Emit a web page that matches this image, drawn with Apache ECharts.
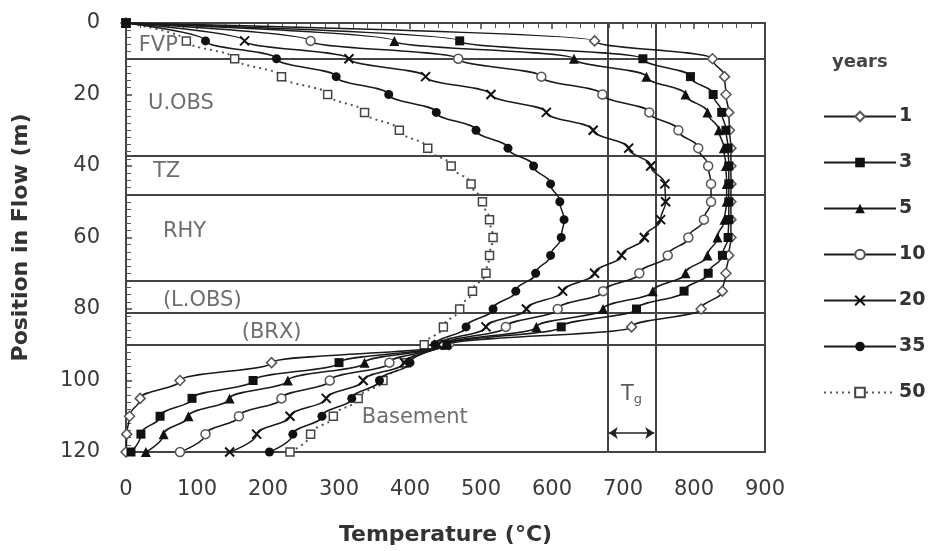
<!DOCTYPE html>
<html>
<head>
<meta charset="utf-8">
<script src="https://cdn.jsdelivr.net/npm/echarts@6/dist/echarts.min.js"></script>
<style>
html,body{margin:0;padding:0;background:#fff;}
#chart{width:933px;height:551px;}
</style>
</head>
<body>
<div id="chart"></div>
<script>
// Depth below the flow top (m) at which each profile is sampled
const depths = [0,5,10,15,20,25,30,35,40,45,50,55,60,65,70,75,80,85,90,95,100,105,110,115,120];

// Temperature (°C) profiles, one per elapsed time
const temp1  = [0,660,826,843,845,849,850,852,852,852,852,852,852,849,845,840,810,712,455,205,76,20,5,1,0];
const temp3  = [0,470,728,795,827,839,845,848,849,849,849,849,848,840,820,786,719,613,452,300,179,93,48,21,7];
const temp5  = [0,378,631,733,788,819,835,842,845,846,846,843,833,819,788,742,672,578,450,336,228,146,88,53,28];
const temp10 = [0,260,468,585,671,737,778,806,820,824,824,814,792,763,723,672,608,535,446,371,287,219,159,112,76];
const temp20 = [0,167,314,422,514,592,658,708,739,759,760,753,730,698,660,615,564,507,440,392,334,282,231,184,146];
const temp35 = [0,112,212,296,370,437,493,538,574,598,611,617,613,598,577,549,517,479,435,400,357,318,276,235,202];
const temp50 = [0,85,153,219,284,336,385,425,458,486,502,512,517,512,507,488,470,447,420,395,362,327,292,260,231];

const yearNames = ['1','3','5','10','20','35','50'];
const profiles = [temp1,temp3,temp5,temp10,temp20,temp35,temp50];

// Layer boundaries (m) and the glass-transition temperature band (°C)
const layerBounds = [10,37,48,72,81,90];
const tgBand = [678,746];

// Layer names, top to bottom
const zoneNames = ['FVP','U.OBS','TZ','RHY','(L.OBS)','(BRX)','Basement'];

const FONT = 'DejaVu Sans';

const markerStyles = [
  {symbol:'diamond', size:10, color:'#fff', border:'#555', bw:1.5, z:9},
  {symbol:'rect', size:9, color:'#111', border:'#111', bw:0, z:15},
  {symbol:'triangle', size:10, color:'#111', border:'#111', bw:0, z:10},
  {symbol:'circle', size:9, color:'#fff', border:'#555', bw:1.5, z:8},
  {symbol:'path://M0,0L10,10M10,0L0,10', size:9, color:'#111', border:'#111', bw:2, z:11},
  {symbol:'circle', size:9, color:'#111', border:'#111', bw:0, z:12},
  {symbol:'rect', size:8, color:'#fff', border:'#444', bw:1.5, z:6}
];

const profileSeries = profiles.map((temps, i) => {
  const m = markerStyles[i];
  return {
    name: yearNames[i],
    type: 'line',
    data: temps.map((t, k) => [t, depths[k]]),
    smooth: 0.45,
    smoothMonotone: 'y',
    symbol: m.symbol,
    symbolSize: m.size,
    showSymbol: true,
    lineStyle: {color: i === 6 ? '#555' : '#1a1a1a', width: i === 6 ? 2 : 1.5, type: i === 6 ? [2,4] : 'solid'},
    itemStyle: {color: m.color, borderColor: m.border, borderWidth: m.bw},
    z: m.z,
    silent: true
  };
});

// Positions of the layer captions (temperature, depth) in axis units
const zoneAnchors = [[18,6.4],[31,22.5],[38,41.6],[52,58.4],[52,77.6],[163,86.5],[332,110.5]];

const lineStyleRule = {color:'#444', width:2, type:'solid'};

const annotationSeries = {
  name: 'layers',
  type: 'scatter',
  silent: true,
  symbolSize: 0,
  data: zoneAnchors.map((p, i) => ({value: p, name: zoneNames[i]})),
  label: {
    show: true, position: 'right', distance: 0,
    formatter: p => p.name,
    fontFamily: FONT, fontSize: 21, color: '#4a4a4a'
  },
  markLine: {
    silent: true,
    symbol: 'none',
    animation: false,
    label: {show: false},
    lineStyle: lineStyleRule,
    data: layerBounds.map(d => [{coord:[0,d]},{coord:[900,d]}])
      .concat(tgBand.map(t => [{coord:[t,0]},{coord:[t,120]}]))
  },
  z: 3
};

const tgSeries = {
  name: 'tg',
  type: 'scatter',
  silent: true,
  symbolSize: 0,
  data: [{value:[(tgBand[0]+tgBand[1])/2, 104]}],
  label: {
    show: true, position: 'inside',
    formatter: '{t|T}{s|g}',
    rich: {
      t: {fontFamily: FONT, fontSize: 21, color: '#333'},
      s: {fontFamily: FONT, fontSize: 13, color: '#333', verticalAlign: 'bottom', padding:[10,0,0,0]}
    }
  },
  markLine: {
    silent: true,
    animation: false,
    symbol: ['arrow','arrow'],
    symbolSize: 9,
    label: {show: false},
    lineStyle: {color:'#222', width:1.5, type:'solid'},
    data: [[{coord:[tgBand[0]+2,114.7]},{coord:[tgBand[1]-2,114.7]}]]
  },
  z: 4
};

const chart = echarts.init(document.getElementById('chart'), null, {renderer:'canvas'});
chart.setOption({
  animation: false,
  backgroundColor: '#fff',
  grid: {left:126, right:168, top:23, bottom:98, show:true, borderColor:'#444', borderWidth:2, backgroundColor:'transparent'},
  title: {
    text: 'years', left: 827, top: 48,
    textStyle: {fontFamily: FONT, fontSize: 18, fontWeight: 'bold', color: '#444'}
  },
  legend: {
    data: yearNames,
    orient: 'vertical',
    left: 823, top: 107,
    padding: 0,
    itemWidth: 72, itemHeight: 12, itemGap: 27,
    textStyle: {fontFamily: FONT, fontSize: 19, fontWeight: 'bold', color: '#333', padding:[0,0,0,-2]},
    selectedMode: false
  },
  xAxis: {
    type: 'value', min: 0, max: 900, interval: 100,
    name: 'Temperature (°C)', nameLocation: 'middle', nameGap: 72,
    nameTextStyle: {fontFamily: FONT, fontSize: 22, fontWeight: 'bold', color: '#333'},
    axisLine: {show: true, lineStyle: {color:'#444', width:2}},
    axisTick: {show: true, inside: false, length: 6, lineStyle: {color:'#444', width:1.5}},
    minorTick: {show: true, splitNumber: 5, length: 5, lineStyle: {color:'#555', width:1}},
    splitLine: {show: false},
    axisLabel: {fontFamily: FONT, fontSize: 21, color: '#3a3a3a', margin: 27}
  },
  yAxis: {
    type: 'value', min: 0, max: 120, interval: 20, inverse: true,
    name: 'Position in Flow (m)', nameLocation: 'middle', nameGap: 94, nameRotate: 90,
    nameTextStyle: {fontFamily: FONT, fontSize: 22, fontWeight: 'bold', color: '#333'},
    axisLine: {show: true, lineStyle: {color:'#444', width:2}},
    axisTick: {show: true, inside: true, length: 6, lineStyle: {color:'#444', width:1.5}},
    minorTick: {show: true, splitNumber: 10, length: 5, lineStyle: {color:'#555', width:1}},
    splitLine: {show: false},
    axisLabel: {fontFamily: FONT, fontSize: 21, color: '#3a3a3a', margin: 26}
  },
  series: [annotationSeries, tgSeries].concat(profileSeries)
});
</script>
</body>
</html>
